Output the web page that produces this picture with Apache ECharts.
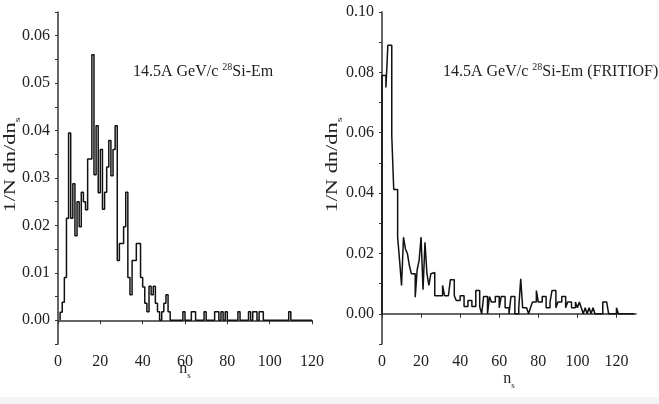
<!DOCTYPE html>
<html>
<head>
<meta charset="utf-8">
<script src="https://cdn.jsdelivr.net/npm/echarts@6/dist/echarts.min.js"></script>
<style>
  html, body { margin: 0; padding: 0; background: #fff; }
  #main { width: 659px; height: 404px; }
</style>
</head>
<body>
<div id="main"></div>
<script>
// experiment: n_s runs from 1, one value per n_s
var expStart = 1;
var expValues = [
  0.0017, 0.0038, 0.009, 0.0215, 0.0395, 0.0215, 0.0288, 0.0178, 0.025, 0.0197,
  0.027, 0.025, 0.0233, 0.034, 0.034, 0.056, 0.0307, 0.041, 0.0269, 0.036,
  0.0234, 0.027, 0.0323, 0.0379, 0.0305, 0.036, 0.041, 0.0126, 0.0162, 0.0162,
  0.0197, 0.027, 0.009, 0.0054, 0.0126, 0.0126, 0.0162, 0.0162, 0.009, 0.007,
  0.0036, 0.0018, 0.0072, 0.0054, 0.0072, 0.0036, 0.0018, 0, 0.0018, 0.0036,
  0.0054, 0.0018, 0, 0, 0, 0, 0, 0, 0.0018, 0,
  0, 0, 0.0018, 0.0018, 0, 0, 0, 0, 0.0018, 0,
  0, 0, 0, 0.0018, 0.0018, 0, 0.0018, 0, 0.0018, 0,
  0, 0, 0, 0, 0.0018, 0, 0, 0, 0, 0.0018,
  0, 0.0018, 0.0018, 0, 0.0018, 0.0018, 0, 0, 0, 0,
  0, 0, 0, 0, 0, 0, 0, 0, 0.0018, 0,
  0, 0, 0, 0, 0, 0, 0, 0, 0, 0
];

// FRITIOF: n_s runs from 0
var fritStart = 0;
var fritValues = [
  0.079, 0.079, 0.075, 0.089, 0.089, 0.059, 0.0412, 0.0412, 0.0254, 0.0177,
  0.0094, 0.0254, 0.0215, 0.02, 0.016, 0.0133, 0.0133, 0.0055, 0.0146, 0.0177,
  0.0254, 0.008, 0.0237, 0.0133, 0.0094, 0.0133, 0.0137, 0.006, 0.006, 0.006,
  0.006, 0.0094, 0.006, 0.006, 0.006, 0.0113, 0.0113, 0.006, 0.0044, 0.0044,
  0.006, 0.006, 0.0024, 0.0024, 0.0044, 0.0044, 0.0024, 0.0024, 0.0077, 0.0077,
  0.0024, 0, 0.0057, 0.0057, 0, 0.0057, 0.0039, 0.0039, 0.0057, 0.0057,
  0.002, 0.0057, 0.0057, 0.002, 0.002, 0, 0.0057, 0.0057, 0, 0,
  0.002, 0.0116, 0.002, 0.002, 0.002, 0, 0.002, 0.0039, 0.0039, 0.0077,
  0.0039, 0.0039, 0.0057, 0.0057, 0.002, 0.002, 0.0039, 0.0077, 0.0077, 0.002,
  0.0039, 0.0039, 0.0057, 0.0057, 0.002, 0.0039, 0.0039, 0.002, 0.002, 0.0039,
  0.002, 0.0039, 0.002, 0, 0.002, 0, 0.002, 0, 0.002, 0,
  0, 0, 0, 0.0039, 0.0039, 0.0039, 0, 0, 0, 0,
  0.002, 0, 0, 0, 0, 0, 0, 0, 0, 0
];

var xTicks = [0, 20, 40, 60, 80, 100, 120];

var serif = "Liberation Serif";
var ink = "#222";

// histogram outline: rise from the baseline, then one step per n_s
function pairs(start, vals) {
  var out = [[start, 0]];
  vals.forEach(function (v, i) { out.push([start + i, v]); });
  return out;
}

function yLabel(step) {
  return function (v) {
    var k = Math.round(v * 1000);
    if (k < 0 || k % step !== 0) return "";
    return v.toFixed(2);
  };
}

var nameRich = {
  m: { fontSize: 16, fontFamily: serif, color: ink, fill: ink, lineHeight: 22 },
  s: { fontSize: 9, fontFamily: serif, color: ink, fill: ink, verticalAlign: "bottom" }
};

function xAxis(idx, max) {
  return {
    type: "value", gridIndex: idx, min: 0, max: max, interval: 20,
    name: "{m|n}{s|s}", nameLocation: "middle", nameGap: idx === 0 ? 14 : 24,
    nameMoveOverlap: false,
    nameTextStyle: { rich: nameRich },
    axisLine: { lineStyle: { color: "#333", width: 1.5 } },
    axisTick: { length: 4, lineStyle: { color: "#333" } },
    axisLabel: {
      fontFamily: serif, fontSize: 16, color: ink, margin: 10,
      showMaxLabel: idx === 0,
      formatter: function (v) { return xTicks.indexOf(v) >= 0 ? String(v) : ""; }
    },
    splitLine: { show: false }
  };
}

function yAxis(idx, min, max, step) {
  return {
    type: "value", gridIndex: idx, min: min, max: max, interval: step === 10 ? 0.005 : 0.01,
    axisLine: { show: true, lineStyle: { color: "#333", width: 1.5 } },
    axisTick: { show: true, length: 3, lineStyle: { color: "#333" } },
    axisLabel: { fontFamily: serif, fontSize: 16, color: ink, margin: 8, formatter: yLabel(step) },
    splitLine: { show: false }
  };
}

// the original figure is stretched vertically, so the rotated titles are too
function yTitle(x) {
  return {
    type: "text", x: x, y: 165, rotation: Math.PI / 2, scaleX: 1.4,
    style: {
      text: "{m|1/N dn/dn}{s|s}", rich: nameRich,
      align: "center", verticalAlign: "middle"
    }
  };
}

function note(x, label) {
  return {
    type: "text", left: x, top: 62,
    style: {
      text: "{m|14.5A GeV/c }{p|28}{m|" + label + "}",
      rich: {
        m: { fontSize: 16, fontFamily: serif, fill: ink, lineHeight: 20 },
        p: { fontSize: 10, fontFamily: serif, fill: ink, verticalAlign: "top" }
      }
    }
  };
}

var myChart = echarts.init(document.getElementById("main"));
myChart.setOption({
  backgroundColor: "#fff",
  animation: false,
  grid: [
    { left: 58, right: 347, top: 12, bottom: 60 },
    { left: 382, right: 23, top: 12, bottom: 60 }
  ],
  xAxis: [xAxis(0, 120), xAxis(1, 130)],
  yAxis: [yAxis(0, -0.005, 0.065, 10), yAxis(1, -0.01, 0.10, 20)],
  series: [
    {
      type: "line", xAxisIndex: 0, yAxisIndex: 0, step: "end",
      showSymbol: false, data: pairs(expStart, expValues),
      lineStyle: { color: "#111", width: 1.5 }
    },
    {
      type: "line", xAxisIndex: 1, yAxisIndex: 1, step: "end",
      showSymbol: false, data: pairs(fritStart, fritValues),
      lineStyle: { color: "#111", width: 1.5 }
    }
  ],
  graphic: [
    yTitle(11),
    yTitle(333),
    note(133, "Si-Em"),
    note(443, "Si-Em (FRITIOF)"),
    {
      type: "rect", left: 0, top: 397, shape: { width: 659, height: 7 },
      style: { fill: "#f1f5f6" }, silent: true
    }
  ]
});
</script>
</body>
</html>
